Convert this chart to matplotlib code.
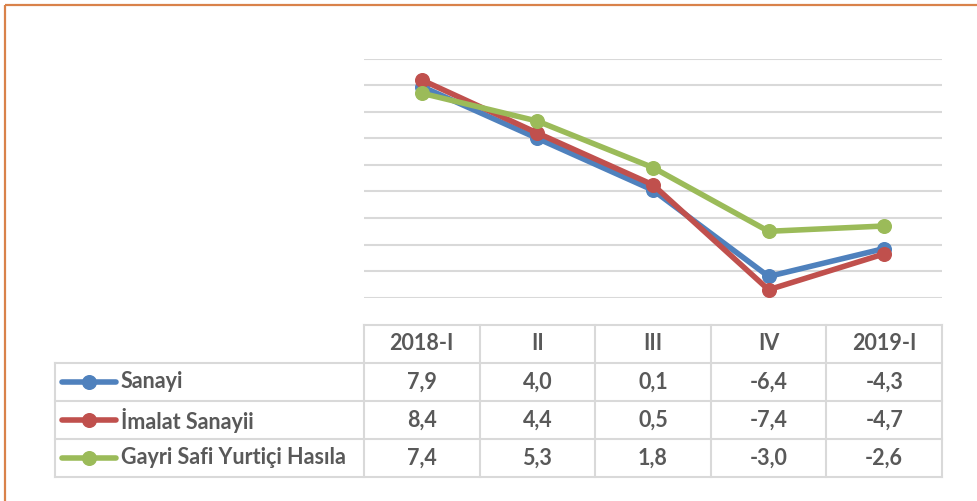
import matplotlib.pyplot as plt
import matplotlib.transforms as mtransforms
from matplotlib.lines import Line2D

# quarters and growth rates (%)
quarters = ['2018-I', 'II', 'III', 'IV', '2019-I']
series_names = ['Sanayi', 'İmalat Sanayii', 'Gayri Safi Yurtiçi Hasıla']
sanayi = [7.9, 4.0, 0.1, -6.4, -4.3]
imalat = [8.4, 4.4, 0.5, -7.4, -4.7]
gsyh = [7.4, 5.3, 1.8, -3.0, -2.6]
colors = ['#4F81BD', '#C0504D', '#9BBB59']

W, H = 978, 501
fig = plt.figure(figsize=(W / 100, H / 100), dpi=100)
plt.rcParams['font.family'] = ['Lato', 'DejaVu Sans']

# main line chart area
ax = fig.add_axes([364 / W, 1 - 297.7 / H, 578 / W, (297.7 - 58.7) / H])
x = list(range(len(quarters)))
for vals, c in zip([sanayi, imalat, gsyh], colors):
    ax.plot(x, vals, color=c, lw=4.0, marker='o', ms=9.8, solid_capstyle='round')
ax.set_xlim(-0.5, len(quarters) - 0.5)
ax.set_ylim(-8, 10)
ax.set_yticks(range(-8, 11, 2))
ax.yaxis.grid(True, color='#d9d9d9', lw=1.5)
ax.set_axisbelow(True)
ax.tick_params(left=False, bottom=False, labelleft=False, labelbottom=False)
for s in ax.spines.values():
    s.set_visible(False)

# overlay in pixel coordinates for table and frame
ov = fig.add_axes([0, 0, 1, 1], zorder=-1)
ov.set_xlim(0, W)
ov.set_ylim(H, 0)
ov.axis('off')
ov.patch.set_alpha(0)

# orange frame on top and left
ov.plot([4.5, W], [4.5, 4.5], color='#D9824A', lw=1.6, solid_capstyle='butt')
ov.plot([4.5, 4.5], [4.5, H], color='#D9824A', lw=1.6, solid_capstyle='butt')

# data table below the chart
bt = mtransforms.blended_transform_factory(ax.transData, ov.transData)
grid_c = '#d9d9d9'
txt_c = '#595959'
rows_y = [325, 362.7, 401, 439.3, 476.7]
label_left = 55
n = len(quarters)

ov.plot([-0.5, n - 0.5], [rows_y[0]] * 2, color=grid_c, lw=1.5, transform=bt)
for yy in rows_y[1:]:
    ov.plot([label_left, 942], [yy, yy], color=grid_c, lw=1.5)
ov.plot([label_left, label_left], [rows_y[1], rows_y[-1]], color=grid_c, lw=1.5)
for i in range(n + 1):
    ov.plot([i - 0.5, i - 0.5], [rows_y[0], rows_y[-1]], color=grid_c, lw=1.5, transform=bt)

font = dict(fontsize=15.5, fontweight='bold', color=txt_c)
for i, q in enumerate(quarters):
    ov.text(i, (rows_y[0] + rows_y[1]) / 2, q, ha='center', va='center', transform=bt, **font)

for r, (name, vals, c) in enumerate(zip(series_names, [sanayi, imalat, gsyh], colors)):
    yc = (rows_y[r + 1] + rows_y[r + 2]) / 2
    ov.add_line(Line2D([62, 116], [yc, yc], color=c, lw=4.0, solid_capstyle='round'))
    ov.add_line(Line2D([89], [yc], color=c, marker='o', ms=9.8))
    ov.text(121, yc, name, ha='left', va='center', **font)
    for i, v in enumerate(vals):
        ov.text(i, yc, f'{v:.1f}'.replace('.', ','), ha='center', va='center',
                transform=bt, **font)

fig.savefig('out.png', dpi=100)
